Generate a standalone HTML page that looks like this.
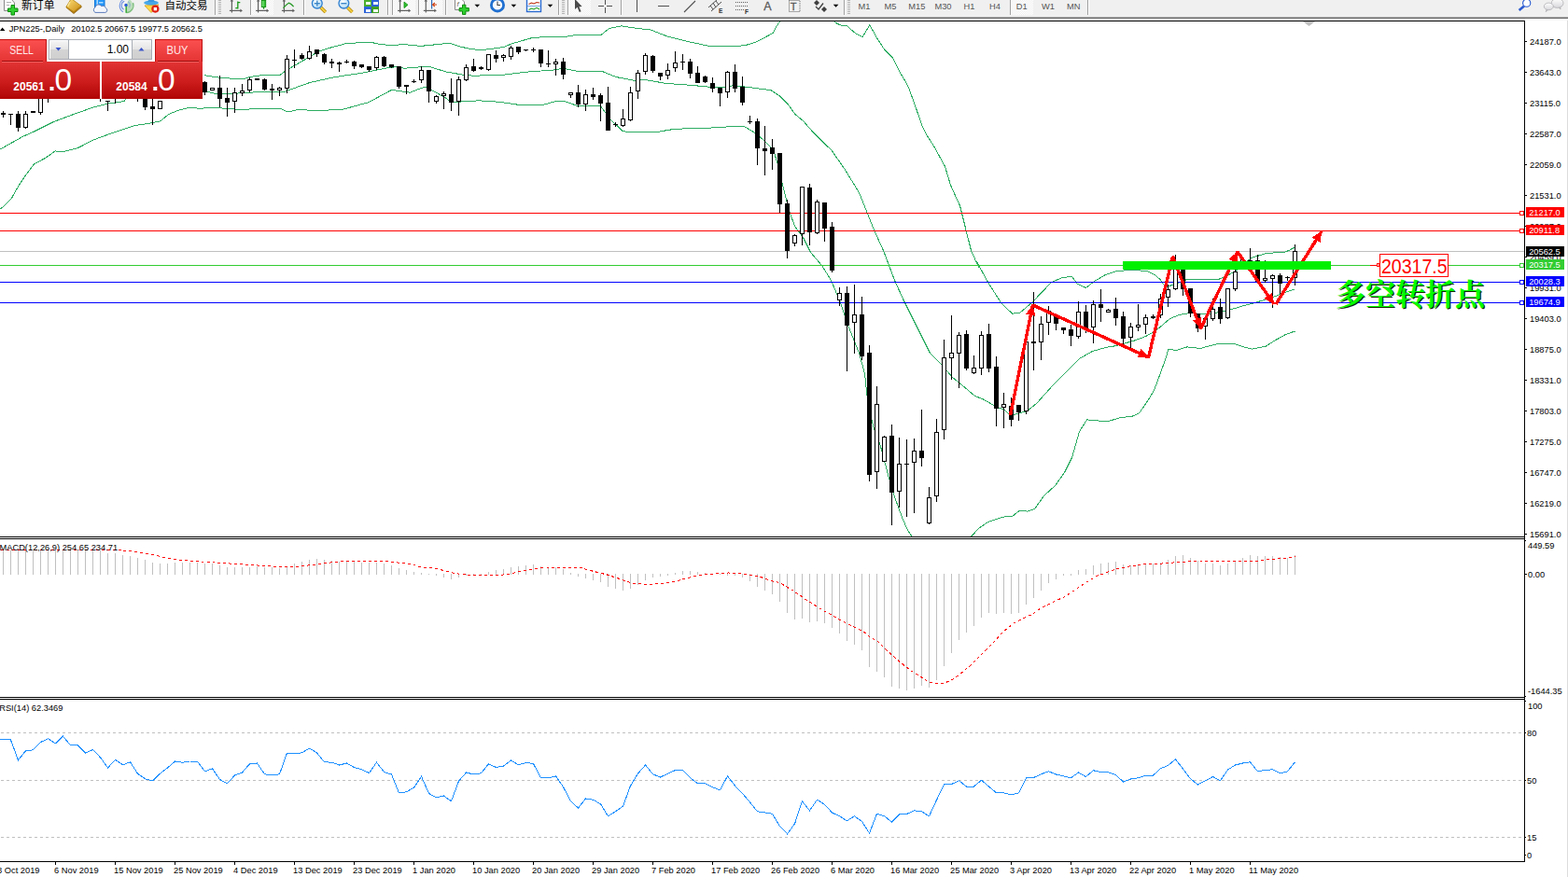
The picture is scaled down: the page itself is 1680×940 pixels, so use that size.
<!DOCTYPE html>
<html><head><meta charset="utf-8"><title>JPN225 Daily</title>
<style>
html,body{margin:0;padding:0;background:#fff;}
body{width:1680px;height:940px;overflow:hidden;position:relative;font-family:"Liberation Sans",sans-serif;}
svg{display:block}
text{white-space:pre}
</style></head><body>
<svg width="1680" height="940" viewBox="0 0 1680 940" style="position:absolute;left:0;top:0" font-family='"Liberation Sans", sans-serif'>
<defs><clipPath id="cm"><rect x="0" y="23" width="1633" height="552"/></clipPath><clipPath id="cd"><rect x="0" y="578" width="1633" height="169"/></clipPath><linearGradient id="gr1" x1="0" y1="0" x2="0" y2="1"><stop offset="0" stop-color="#fb5050"/><stop offset="1" stop-color="#e43333"/></linearGradient><linearGradient id="gr2" x1="0" y1="0" x2="0" y2="1"><stop offset="0" stop-color="#e23434"/><stop offset="0.55" stop-color="#cc1c1c"/><stop offset="1" stop-color="#b00404"/></linearGradient><linearGradient id="gb" x1="0" y1="0" x2="0" y2="1"><stop offset="0" stop-color="#f4f4f4"/><stop offset="0.5" stop-color="#e4e4e4"/><stop offset="0.5" stop-color="#d4d4d4"/><stop offset="1" stop-color="#cfcfcf"/></linearGradient></defs>
<g shape-rendering="crispEdges">
<rect x="0" y="22" width="1634" height="1" fill="#000"/>
<rect x="1633" y="22" width="1" height="902" fill="#000"/>
<rect x="0" y="923" width="1634" height="1" fill="#000"/>
<rect x="0" y="575" width="1634" height="1" fill="#000"/>
<rect x="0" y="577" width="1634" height="1" fill="#000"/>
<rect x="0" y="747" width="1634" height="1" fill="#000"/>
<rect x="0" y="749" width="1634" height="1" fill="#000"/>
<rect x="1679" y="20" width="1" height="920" fill="#dcdcdc"/>
<g clip-path="url(#cm)">
<rect x="0" y="269" width="1633" height="1" fill="#c0c0c0"/>
<g><polyline points="219.4,80.8 227.9,82.2 235.9,83.2 243.9,83.9 251.9,84.4 259.9,84.9 267.9,82.5 275.9,81.1 283.9,80.8 291.9,80.6 299.9,80.6 303.9,77.5 307.9,74.6 315.9,70.1 323.9,65.4 331.9,61.1 339.9,55.6 347.9,52.9 355.9,50.6 363.9,48.5 370.1,46.8 379.9,46.1 385.1,45.4 397.9,45.4 403.9,46.8 411.9,47.9 419.9,48.9 427.9,47.9 435.9,47.9 443.9,48.6 451.9,49.6 448.5,49.6 462.8,48.2 472.8,47.1 482.8,46.5 491.4,49.6 502.8,52.2 514.2,53.6 522.8,52.9 539.9,50.4 548.5,46.8 569.9,40.6 584.2,39.6 605.6,39.4 617.1,37.5 644.2,37.2 652.8,30.4 665.6,27.8 677.1,29.6 688.5,31.1 694.8,31.1 714.8,38.9 737.6,44.6 760.5,49.6 774.8,49.6 797.6,48.9 809.1,45.4 820.5,39.6 828.4,35.4 831.9,28.2 835.5,23.2" fill="none" stroke="#2cac62" stroke-width="1" /><polyline points="894.1,23.6 899.8,26.8 907.6,27.9 916.2,35.4 924.1,39.6 931.9,26.8 939.8,41.1 947.6,53.2 956.9,62.5 963.4,76.1 969.8,86.8 974.1,95.4 979.8,111.1 987.6,133.9 993.4,145.4 1000.2,156.1 1000.5,156.5 1012.5,178.5 1018.5,198.5 1028.5,220.5 1034.5,244.5 1040.5,268.5 1048.5,286.5 1046.5,280.5 1058.5,302.5 1072.5,324.5 1084.5,336.1 1092.5,335.5 1106.5,323.5 1126.5,302.5 1138.5,297.5 1148.5,296.5 1154.5,304.5 1163.5,308.5 1172.5,301.5 1184.5,294.5 1196.5,290.5 1213.4,289.4 1229.1,290.5 1237.6,294.8 1243.4,299.8 1248.5,307.5 1256.5,305.5 1271.0,299.8 1294.8,299.4 1304.8,299.8 1316.2,294.8 1326.2,289.1 1336.5,279.5 1341.5,276.2 1349.5,273.7 1358.0,271.2 1375.2,270.7 1380.3,268.7 1387.4,265.1" fill="none" stroke="#2cac62" stroke-width="1" /><polyline points="0.5,159.8 11.9,153.4 24.8,146.2 36.2,141.2 57.6,130.5 80.5,121.9 100.5,114.8 114.8,111.2 129.1,109.1 133.4,108.8 134.5,105.5 216.5,96.8 216.5,96.8 230.8,100.4 245.1,100.8 259.4,99.6 273.6,98.9 305.1,98.2 310.8,96.1 330.8,88.9 339.4,86.8 359.4,82.5 387.9,78.2 416.5,72.5 423.6,71.8 433.6,73.2 450.8,71.8 461.4,71.8 477.1,76.8 495.6,80.1 505.6,81.1 534.2,80.8 569.9,76.5 591.4,75.4 602.8,73.2 617.1,76.1 644.2,76.1 659.9,82.5 679.9,86.4 688.5,85.4 694.8,86.1 713.4,89.4 737.6,91.1 760.5,93.2 771.9,93.9 784.8,91.8 794.8,92.5 801.9,93.5 816.2,95.4 826.2,96.8 834.8,102.5 844.8,112.5 851.9,122.5 860.5,129.6 871.9,142.5 884.8,155.4 890.5,160.5 904.5,180.5 920.5,206.5 928.5,226.5 936.5,246.5 946.5,268.5 952.5,284.5 958.5,300.5 968.5,322.5 980.5,346.5 996.5,378.5 1008.5,390.5 1020.5,404.5 1030.5,412.5 1044.5,424.5 1052.5,427.5 1066.5,435.5 1076.5,439.5 1082.5,445.5 1100.5,440.5 1110.5,432.5 1128.5,412.5 1140.5,400.5 1156.5,384.5 1170.5,376.5 1184.5,372.5 1196.5,370.5 1216.2,364.8 1227.6,360.5 1237.6,354.8 1243.5,350.1 1253.5,341.5 1263.5,337.5 1273.0,335.8 1293.5,336.5 1301.5,335.5 1318.5,331.9 1331.5,327.9 1341.5,325.3 1352.0,322.3 1362.1,319.3 1372.2,315.2 1380.3,312.2 1387.4,309.9" fill="none" stroke="#2cac62" stroke-width="1" /><polyline points="0.5,224.1 11.9,213.4 19.1,200.5 27.6,187.6 36.2,176.2 49.1,169.1 59.1,161.9 66.2,162.9 83.4,158.6 100.5,149.8 121.9,141.9 143.4,134.8 157.6,132.6 171.9,129.8 180.5,122.6 190.5,118.4 200.5,115.8 216.5,116.1 230.8,115.1 245.1,116.8 263.6,117.5 270.8,116.5 300.8,116.5 307.9,120.1 319.4,117.5 337.9,118.5 366.5,117.5 395.1,109.6 419.4,96.5 427.9,97.5 439.4,99.2 450.8,94.6 455.6,93.5 462.8,96.8 477.1,104.6 484.2,109.9 495.6,108.9 512.8,107.8 534.2,109.2 554.2,112.1 569.9,112.9 581.4,112.5 594.2,108.9 605.6,108.9 619.9,113.9 643.5,113.9 654.2,128.2 667.1,140.4 674.2,141.8 688.5,141.4 701.9,141.8 719.1,138.9 737.6,137.5 773.4,136.8 779.1,135.8 797.6,135.8 809.1,142.5 817.6,149.6 824.8,156.8 828.5,160.5 833.5,176.5 840.5,206.5 846.5,228.5 851.5,242.5 860.5,254.5 868.5,270.5 880.5,284.5 890.5,300.5 900.5,324.5 908.5,348.5 920.5,378.5 926.5,400.5 929.5,428.5 934.5,452.5 937.5,462.5 943.5,478.5 952.5,512.5 958.5,532.5 966.5,554.5 972.5,568.5 977.5,575.5" fill="none" stroke="#2cac62" stroke-width="1" /><polyline points="1040.5,575.1 1048.5,566.5 1058.5,559.5 1074.5,554.1 1084.5,553.5 1092.5,547.1 1100.5,548.1 1108.5,545.5 1118.5,531.5 1130.5,520.5 1140.5,506.5 1148.5,490.5 1152.5,476.5 1156.5,462.5 1164.5,449.9 1186.5,451.9 1200.5,447.5 1212.5,446.5 1220.5,442.9 1230.5,428.5 1236.5,418.5 1249.1,384.1 1251.9,374.1 1260.5,375.5 1271.9,371.9 1286.2,373.4 1303.4,368.8 1323.4,368.8 1334.8,372.6 1341.9,374.1 1356.2,371.2 1366.2,364.8 1377.6,358.4 1384.8,355.9 1387.6,355.9" fill="none" stroke="#2cac62" stroke-width="1" /></g>
<rect x="0" y="228" width="1628" height="1" fill="#ff0000"/>
<rect x="0" y="247" width="1628" height="1" fill="#ff0000"/>
<rect x="0" y="284" width="1628" height="1" fill="#32cd32"/>
<rect x="0" y="302" width="1628" height="1" fill="#0000ff"/>
<rect x="0" y="324" width="1628" height="1" fill="#0000ff"/>
<g fill="#000"><rect x="3" y="119" width="1" height="7"/><rect x="1" y="121" width="5" height="2"/><rect x="11" y="122" width="1" height="12"/><rect x="9" y="122" width="5" height="1"/><rect x="19" y="119" width="1" height="22"/><rect x="17" y="122" width="5" height="15"/><rect x="27" y="119" width="1" height="19"/><rect x="25" y="122" width="5" height="15"/><rect x="26" y="123" width="3" height="13" fill="#fff"/><rect x="35" y="119" width="1" height="2"/><rect x="33" y="119" width="5" height="2"/><rect x="43" y="100" width="1" height="23"/><rect x="41" y="100" width="5" height="21"/><rect x="42" y="101" width="3" height="19" fill="#fff"/><rect x="51" y="100" width="1" height="10"/><rect x="49" y="100" width="5" height="5"/><rect x="107" y="100" width="1" height="9"/><rect x="105" y="100" width="5" height="5"/><rect x="115" y="108" width="1" height="11"/><rect x="113" y="108" width="5" height="1"/><rect x="123" y="100" width="1" height="11"/><rect x="121" y="100" width="5" height="5"/><rect x="147" y="100" width="1" height="9"/><rect x="145" y="100" width="5" height="5"/><rect x="155" y="100" width="1" height="18"/><rect x="153" y="100" width="5" height="15"/><rect x="163" y="100" width="1" height="34"/><rect x="161" y="114" width="5" height="3"/><rect x="171" y="108" width="1" height="9"/><rect x="169" y="108" width="5" height="9"/><rect x="170" y="109" width="3" height="7" fill="#fff"/><rect x="219" y="87" width="1" height="15"/><rect x="217" y="88" width="5" height="11"/><rect x="227" y="94" width="1" height="3"/><rect x="225" y="94" width="5" height="3"/><rect x="226" y="95" width="3" height="1" fill="#fff"/><rect x="235" y="81" width="1" height="34"/><rect x="233" y="94" width="5" height="12"/><rect x="243" y="94" width="1" height="31"/><rect x="241" y="105" width="5" height="5"/><rect x="251" y="94" width="1" height="27"/><rect x="249" y="99" width="5" height="10"/><rect x="250" y="100" width="3" height="8" fill="#fff"/><rect x="259" y="90" width="1" height="13"/><rect x="257" y="97" width="5" height="3"/><rect x="258" y="98" width="3" height="1" fill="#fff"/><rect x="267" y="83" width="1" height="16"/><rect x="265" y="85" width="5" height="12"/><rect x="266" y="86" width="3" height="10" fill="#fff"/><rect x="275" y="84" width="1" height="2"/><rect x="273" y="84" width="5" height="2"/><rect x="283" y="84" width="1" height="13"/><rect x="281" y="85" width="5" height="11"/><rect x="291" y="90" width="1" height="17"/><rect x="289" y="95" width="5" height="2"/><rect x="299" y="93" width="1" height="10"/><rect x="297" y="94" width="5" height="3"/><rect x="298" y="95" width="3" height="1" fill="#fff"/><rect x="307" y="59" width="1" height="41"/><rect x="305" y="63" width="5" height="32"/><rect x="306" y="64" width="3" height="30" fill="#fff"/><rect x="315" y="53" width="1" height="20"/><rect x="313" y="64" width="5" height="1"/><rect x="323" y="57" width="1" height="7"/><rect x="321" y="59" width="5" height="4"/><rect x="331" y="49" width="1" height="15"/><rect x="329" y="55" width="5" height="8"/><rect x="330" y="56" width="3" height="6" fill="#fff"/><rect x="339" y="53" width="1" height="8"/><rect x="337" y="53" width="5" height="5"/><rect x="347" y="57" width="1" height="12"/><rect x="345" y="58" width="5" height="9"/><rect x="355" y="63" width="1" height="10"/><rect x="353" y="66" width="5" height="2"/><rect x="363" y="66" width="1" height="11"/><rect x="361" y="67" width="5" height="2"/><rect x="371" y="64" width="1" height="4"/><rect x="369" y="66" width="5" height="1"/><rect x="379" y="65" width="1" height="9"/><rect x="377" y="66" width="5" height="5"/><rect x="387" y="69" width="1" height="4"/><rect x="385" y="69" width="5" height="3"/><rect x="395" y="71" width="1" height="6"/><rect x="393" y="71" width="5" height="4"/><rect x="403" y="60" width="1" height="15"/><rect x="401" y="61" width="5" height="12"/><rect x="402" y="62" width="3" height="10" fill="#fff"/><rect x="411" y="60" width="1" height="12"/><rect x="409" y="61" width="5" height="10"/><rect x="419" y="69" width="1" height="4"/><rect x="417" y="69" width="5" height="3"/><rect x="427" y="71" width="1" height="24"/><rect x="425" y="71" width="5" height="22"/><rect x="435" y="91" width="1" height="10"/><rect x="433" y="91" width="5" height="2"/><rect x="443" y="85" width="1" height="4"/><rect x="441" y="87" width="5" height="1"/><rect x="451" y="71" width="1" height="18"/><rect x="449" y="75" width="5" height="11"/><rect x="450" y="76" width="3" height="9" fill="#fff"/><rect x="459" y="75" width="1" height="35"/><rect x="457" y="75" width="5" height="23"/><rect x="467" y="102" width="1" height="9"/><rect x="465" y="103" width="5" height="6"/><rect x="466" y="104" width="3" height="4" fill="#fff"/><rect x="475" y="98" width="1" height="19"/><rect x="473" y="100" width="5" height="3"/><rect x="474" y="101" width="3" height="1" fill="#fff"/><rect x="483" y="84" width="1" height="35"/><rect x="481" y="101" width="5" height="9"/><rect x="491" y="82" width="1" height="42"/><rect x="489" y="85" width="5" height="24"/><rect x="490" y="86" width="3" height="22" fill="#fff"/><rect x="499" y="69" width="1" height="18"/><rect x="497" y="72" width="5" height="14"/><rect x="498" y="73" width="3" height="12" fill="#fff"/><rect x="507" y="63" width="1" height="14"/><rect x="505" y="71" width="5" height="5"/><rect x="515" y="71" width="1" height="4"/><rect x="513" y="72" width="5" height="2"/><rect x="523" y="58" width="1" height="18"/><rect x="521" y="58" width="5" height="17"/><rect x="522" y="59" width="3" height="15" fill="#fff"/><rect x="531" y="54" width="1" height="13"/><rect x="529" y="59" width="5" height="4"/><rect x="539" y="58" width="1" height="8"/><rect x="537" y="59" width="5" height="3"/><rect x="538" y="60" width="3" height="1" fill="#fff"/><rect x="547" y="49" width="1" height="15"/><rect x="545" y="51" width="5" height="10"/><rect x="546" y="52" width="3" height="8" fill="#fff"/><rect x="555" y="50" width="1" height="8"/><rect x="553" y="50" width="5" height="6"/><rect x="563" y="53" width="1" height="2"/><rect x="561" y="53" width="5" height="1"/><rect x="571" y="51" width="1" height="5"/><rect x="569" y="53" width="5" height="1"/><rect x="579" y="53" width="1" height="19"/><rect x="577" y="53" width="5" height="15"/><rect x="587" y="54" width="1" height="18"/><rect x="585" y="68" width="5" height="1"/><rect x="595" y="63" width="1" height="18"/><rect x="593" y="66" width="5" height="3"/><rect x="594" y="67" width="3" height="1" fill="#fff"/><rect x="603" y="62" width="1" height="23"/><rect x="601" y="66" width="5" height="14"/><rect x="611" y="99" width="1" height="6"/><rect x="609" y="99" width="5" height="3"/><rect x="610" y="100" width="3" height="1" fill="#fff"/><rect x="619" y="91" width="1" height="24"/><rect x="617" y="99" width="5" height="13"/><rect x="627" y="96" width="1" height="23"/><rect x="625" y="101" width="5" height="11"/><rect x="626" y="102" width="3" height="9" fill="#fff"/><rect x="635" y="94" width="1" height="13"/><rect x="633" y="101" width="5" height="3"/><rect x="643" y="100" width="1" height="30"/><rect x="641" y="102" width="5" height="9"/><rect x="651" y="93" width="1" height="47"/><rect x="649" y="110" width="5" height="30"/><rect x="659" y="131" width="1" height="5"/><rect x="657" y="133" width="5" height="1"/><rect x="667" y="117" width="1" height="19"/><rect x="665" y="127" width="5" height="8"/><rect x="666" y="128" width="3" height="6" fill="#fff"/><rect x="675" y="93" width="1" height="37"/><rect x="673" y="99" width="5" height="30"/><rect x="674" y="100" width="3" height="28" fill="#fff"/><rect x="683" y="75" width="1" height="31"/><rect x="681" y="78" width="5" height="20"/><rect x="682" y="79" width="3" height="18" fill="#fff"/><rect x="691" y="57" width="1" height="23"/><rect x="689" y="59" width="5" height="18"/><rect x="690" y="60" width="3" height="16" fill="#fff"/><rect x="699" y="59" width="1" height="19"/><rect x="697" y="60" width="5" height="16"/><rect x="707" y="78" width="1" height="8"/><rect x="705" y="78" width="5" height="4"/><rect x="715" y="68" width="1" height="17"/><rect x="713" y="75" width="5" height="6"/><rect x="714" y="76" width="3" height="4" fill="#fff"/><rect x="723" y="55" width="1" height="22"/><rect x="721" y="67" width="5" height="6"/><rect x="722" y="68" width="3" height="4" fill="#fff"/><rect x="731" y="58" width="1" height="17"/><rect x="729" y="66" width="5" height="1"/><rect x="739" y="63" width="1" height="21"/><rect x="737" y="66" width="5" height="13"/><rect x="747" y="71" width="1" height="18"/><rect x="745" y="78" width="5" height="11"/><rect x="755" y="81" width="1" height="8"/><rect x="753" y="82" width="5" height="6"/><rect x="763" y="83" width="1" height="16"/><rect x="761" y="89" width="5" height="6"/><rect x="771" y="94" width="1" height="20"/><rect x="769" y="94" width="5" height="6"/><rect x="779" y="76" width="1" height="29"/><rect x="777" y="77" width="5" height="22"/><rect x="778" y="78" width="3" height="20" fill="#fff"/><rect x="787" y="69" width="1" height="30"/><rect x="785" y="77" width="5" height="18"/><rect x="795" y="82" width="1" height="31"/><rect x="793" y="93" width="5" height="17"/><rect x="803" y="124" width="1" height="9"/><rect x="801" y="130" width="5" height="1"/><rect x="811" y="127" width="1" height="50"/><rect x="809" y="130" width="5" height="29"/><rect x="819" y="135" width="1" height="53"/><rect x="817" y="159" width="5" height="3"/><rect x="827" y="149" width="1" height="33"/><rect x="825" y="158" width="5" height="7"/><rect x="835" y="164" width="1" height="64"/><rect x="833" y="164" width="5" height="55"/><rect x="843" y="214" width="1" height="63"/><rect x="841" y="218" width="5" height="51"/><rect x="851" y="251" width="1" height="13"/><rect x="849" y="252" width="5" height="9"/><rect x="850" y="253" width="3" height="7" fill="#fff"/><rect x="859" y="200" width="1" height="63"/><rect x="857" y="200" width="5" height="51"/><rect x="858" y="201" width="3" height="49" fill="#fff"/><rect x="867" y="197" width="1" height="66"/><rect x="865" y="201" width="5" height="48"/><rect x="875" y="214" width="1" height="37"/><rect x="873" y="216" width="5" height="34"/><rect x="874" y="217" width="3" height="32" fill="#fff"/><rect x="883" y="217" width="1" height="42"/><rect x="881" y="217" width="5" height="28"/><rect x="891" y="238" width="1" height="54"/><rect x="889" y="243" width="5" height="47"/><rect x="899" y="308" width="1" height="20"/><rect x="897" y="314" width="5" height="8"/><rect x="898" y="315" width="3" height="6" fill="#fff"/><rect x="907" y="307" width="1" height="91"/><rect x="905" y="314" width="5" height="35"/><rect x="915" y="305" width="1" height="74"/><rect x="913" y="337" width="5" height="9"/><rect x="914" y="338" width="3" height="7" fill="#fff"/><rect x="923" y="318" width="1" height="68"/><rect x="921" y="337" width="5" height="45"/><rect x="931" y="370" width="1" height="146"/><rect x="929" y="378" width="5" height="131"/><rect x="939" y="414" width="1" height="110"/><rect x="937" y="433" width="5" height="73"/><rect x="938" y="434" width="3" height="71" fill="#fff"/><rect x="947" y="467" width="1" height="28"/><rect x="945" y="468" width="5" height="27"/><rect x="946" y="469" width="3" height="25" fill="#fff"/><rect x="955" y="455" width="1" height="108"/><rect x="953" y="467" width="5" height="61"/><rect x="963" y="469" width="1" height="75"/><rect x="961" y="497" width="5" height="30"/><rect x="962" y="498" width="3" height="28" fill="#fff"/><rect x="971" y="471" width="1" height="83"/><rect x="969" y="497" width="5" height="1"/><rect x="979" y="470" width="1" height="80"/><rect x="977" y="483" width="5" height="13"/><rect x="978" y="484" width="3" height="11" fill="#fff"/><rect x="987" y="439" width="1" height="61"/><rect x="985" y="483" width="5" height="8"/><rect x="995" y="522" width="1" height="40"/><rect x="993" y="533" width="5" height="28"/><rect x="994" y="534" width="3" height="26" fill="#fff"/><rect x="1003" y="449" width="1" height="89"/><rect x="1001" y="463" width="5" height="69"/><rect x="1002" y="464" width="3" height="67" fill="#fff"/><rect x="1011" y="364" width="1" height="107"/><rect x="1009" y="383" width="5" height="78"/><rect x="1010" y="384" width="3" height="76" fill="#fff"/><rect x="1019" y="338" width="1" height="69"/><rect x="1017" y="378" width="5" height="6"/><rect x="1018" y="379" width="3" height="4" fill="#fff"/><rect x="1027" y="356" width="1" height="60"/><rect x="1025" y="359" width="5" height="20"/><rect x="1026" y="360" width="3" height="18" fill="#fff"/><rect x="1035" y="354" width="1" height="43"/><rect x="1033" y="358" width="5" height="37"/><rect x="1043" y="381" width="1" height="20"/><rect x="1041" y="394" width="5" height="6"/><rect x="1042" y="395" width="3" height="4" fill="#fff"/><rect x="1051" y="355" width="1" height="47"/><rect x="1049" y="359" width="5" height="36"/><rect x="1050" y="360" width="3" height="34" fill="#fff"/><rect x="1059" y="347" width="1" height="52"/><rect x="1057" y="358" width="5" height="37"/><rect x="1067" y="382" width="1" height="75"/><rect x="1065" y="393" width="5" height="45"/><rect x="1075" y="421" width="1" height="38"/><rect x="1073" y="433" width="5" height="4"/><rect x="1074" y="434" width="3" height="2" fill="#fff"/><rect x="1083" y="426" width="1" height="31"/><rect x="1081" y="435" width="5" height="15"/><rect x="1091" y="434" width="1" height="17"/><rect x="1089" y="434" width="5" height="8"/><rect x="1099" y="366" width="1" height="78"/><rect x="1097" y="366" width="5" height="75"/><rect x="1098" y="367" width="3" height="73" fill="#fff"/><rect x="1107" y="313" width="1" height="84"/><rect x="1105" y="366" width="5" height="2"/><rect x="1115" y="339" width="1" height="47"/><rect x="1113" y="347" width="5" height="20"/><rect x="1114" y="348" width="3" height="18" fill="#fff"/><rect x="1123" y="328" width="1" height="31"/><rect x="1121" y="333" width="5" height="13"/><rect x="1122" y="334" width="3" height="11" fill="#fff"/><rect x="1131" y="337" width="1" height="17"/><rect x="1129" y="337" width="5" height="10"/><rect x="1139" y="351" width="1" height="7"/><rect x="1137" y="351" width="5" height="3"/><rect x="1147" y="348" width="1" height="23"/><rect x="1145" y="353" width="5" height="7"/><rect x="1155" y="323" width="1" height="40"/><rect x="1153" y="334" width="5" height="27"/><rect x="1154" y="335" width="3" height="25" fill="#fff"/><rect x="1163" y="327" width="1" height="30"/><rect x="1161" y="334" width="5" height="18"/><rect x="1171" y="322" width="1" height="46"/><rect x="1169" y="326" width="5" height="25"/><rect x="1170" y="327" width="3" height="23" fill="#fff"/><rect x="1179" y="310" width="1" height="35"/><rect x="1177" y="326" width="5" height="4"/><rect x="1187" y="331" width="1" height="4"/><rect x="1185" y="332" width="5" height="3"/><rect x="1186" y="333" width="3" height="1" fill="#fff"/><rect x="1195" y="319" width="1" height="30"/><rect x="1193" y="331" width="5" height="10"/><rect x="1203" y="334" width="1" height="35"/><rect x="1201" y="339" width="5" height="24"/><rect x="1211" y="346" width="1" height="28"/><rect x="1209" y="350" width="5" height="12"/><rect x="1210" y="351" width="3" height="10" fill="#fff"/><rect x="1219" y="326" width="1" height="29"/><rect x="1217" y="348" width="5" height="3"/><rect x="1218" y="349" width="3" height="1" fill="#fff"/><rect x="1227" y="337" width="1" height="21"/><rect x="1225" y="340" width="5" height="8"/><rect x="1226" y="341" width="3" height="6" fill="#fff"/><rect x="1235" y="337" width="1" height="5"/><rect x="1233" y="339" width="5" height="2"/><rect x="1243" y="315" width="1" height="26"/><rect x="1241" y="320" width="5" height="18"/><rect x="1242" y="321" width="3" height="16" fill="#fff"/><rect x="1251" y="305" width="1" height="24"/><rect x="1249" y="310" width="5" height="9"/><rect x="1250" y="311" width="3" height="7" fill="#fff"/><rect x="1259" y="273" width="1" height="38"/><rect x="1257" y="283" width="5" height="27"/><rect x="1258" y="284" width="3" height="25" fill="#fff"/><rect x="1267" y="281" width="1" height="36"/><rect x="1265" y="283" width="5" height="27"/><rect x="1275" y="309" width="1" height="31"/><rect x="1273" y="309" width="5" height="27"/><rect x="1283" y="336" width="1" height="20"/><rect x="1281" y="336" width="5" height="16"/><rect x="1291" y="341" width="1" height="23"/><rect x="1289" y="341" width="5" height="9"/><rect x="1290" y="342" width="3" height="7" fill="#fff"/><rect x="1299" y="320" width="1" height="24"/><rect x="1297" y="331" width="5" height="11"/><rect x="1298" y="332" width="3" height="9" fill="#fff"/><rect x="1307" y="320" width="1" height="27"/><rect x="1305" y="329" width="5" height="13"/><rect x="1315" y="309" width="1" height="33"/><rect x="1313" y="309" width="5" height="32"/><rect x="1314" y="310" width="3" height="30" fill="#fff"/><rect x="1323" y="288" width="1" height="24"/><rect x="1321" y="291" width="5" height="19"/><rect x="1322" y="292" width="3" height="17" fill="#fff"/><rect x="1331" y="276" width="1" height="12"/><rect x="1329" y="278" width="5" height="9"/><rect x="1330" y="279" width="3" height="7" fill="#fff"/><rect x="1339" y="266" width="1" height="22"/><rect x="1337" y="279" width="5" height="7"/><rect x="1347" y="273" width="1" height="29"/><rect x="1345" y="279" width="5" height="23"/><rect x="1355" y="279" width="1" height="24"/><rect x="1353" y="298" width="5" height="3"/><rect x="1354" y="299" width="3" height="1" fill="#fff"/><rect x="1363" y="294" width="1" height="36"/><rect x="1361" y="295" width="5" height="4"/><rect x="1362" y="296" width="3" height="2" fill="#fff"/><rect x="1371" y="293" width="1" height="22"/><rect x="1369" y="295" width="5" height="9"/><rect x="1379" y="296" width="1" height="5"/><rect x="1377" y="297" width="5" height="1"/><rect x="1387" y="262" width="1" height="44"/><rect x="1385" y="269" width="5" height="29"/><rect x="1386" y="270" width="3" height="27" fill="#fff"/></g>
</g>
</g>
<g clip-path="url(#cm)" shape-rendering="crispEdges">
<polyline points="1082.5,445.0 1106.5,327.0 1230.5,383.0 1256.5,275.0 1286.5,352.0 1326.0,270.0 1365.0,326.0" fill="none" stroke="#ff0000" stroke-width="3.4" stroke-linejoin="bevel"/>
<line x1="1367" y1="326" x2="1416" y2="248" stroke="#ff0000" stroke-width="3.4"/>
<g fill="#ff0000"><polygon points="1106.6,326.5 1109.4,338.8 1099.2,336.7"/><polygon points="1231.0,383.2 1218.3,383.2 1222.6,373.7"/><polygon points="1256.6,274.5 1259.0,286.9 1248.9,284.5"/><polygon points="1286.7,352.5 1277.7,343.6 1287.4,339.9"/><polygon points="1326.2,269.5 1325.9,282.2 1316.5,277.7"/><polygon points="1365.3,326.4 1354.4,319.9 1363.0,314.0"/><polygon points="1416.3,247.6 1414.6,260.1 1405.7,254.5"/></g>
<rect x="1203" y="280" width="223" height="9" fill="#00f000"/>
<rect x="1468" y="284" width="8" height="1" fill="#ff0000"/>
<rect x="1475.5" y="282.5" width="2" height="3" fill="#fff" stroke="#ff0000" stroke-width="1"/>
<rect x="1478.5" y="272.5" width="73" height="24" fill="#fff" stroke="#ff0000" stroke-width="1"/>
</g>
<text x="1480" y="293" fill="#ff0000" font-size="22" text-anchor="start" font-weight="normal" textLength="70.5" lengthAdjust="spacingAndGlyphs">20317.5</text>
<text x="1432.2" y="328.2" fill="#182800" font-size="32" font-weight="bold" font-family='"Liberation Serif", "Noto Serif CJK SC", serif' textLength="160" lengthAdjust="spacingAndGlyphs">多空转折点</text>
<text x="1431" y="327" fill="#00ff00" font-size="32" font-weight="bold" font-family='"Liberation Serif", "Noto Serif CJK SC", serif' textLength="160" lengthAdjust="spacingAndGlyphs">多空转折点</text>
<polygon points="1396,23 1409,23 1402.5,28" fill="#c0c0c0"/>
<g shape-rendering="crispEdges" fill="#000">
<rect x="1634" y="44" width="2" height="1"/>
<rect x="1634" y="77" width="2" height="1"/>
<rect x="1634" y="110" width="2" height="1"/>
<rect x="1634" y="143" width="2" height="1"/>
<rect x="1634" y="176" width="2" height="1"/>
<rect x="1634" y="209" width="2" height="1"/>
<rect x="1634" y="242" width="2" height="1"/>
<rect x="1634" y="275" width="2" height="1"/>
<rect x="1634" y="308" width="2" height="1"/>
<rect x="1634" y="341" width="2" height="1"/>
<rect x="1634" y="374" width="2" height="1"/>
<rect x="1634" y="407" width="2" height="1"/>
<rect x="1634" y="440" width="2" height="1"/>
<rect x="1634" y="473" width="2" height="1"/>
<rect x="1634" y="506" width="2" height="1"/>
<rect x="1634" y="539" width="2" height="1"/>
<rect x="1634" y="572" width="2" height="1"/>
<rect x="1634" y="579" width="1" height="1"/><rect x="1634" y="615" width="2" height="1"/><rect x="1634" y="746" width="1" height="1"/>
<rect x="1634" y="751" width="1" height="1"/>
<rect x="1634" y="785" width="1" height="1"/>
<rect x="1634" y="836" width="1" height="1"/>
<rect x="1634" y="897" width="1" height="1"/>
<rect x="1634" y="916" width="1" height="1"/>
</g>
<text x="1639" y="47.7" fill="#000" font-size="9.3" text-anchor="start" font-weight="normal" >24187.0</text>
<text x="1639" y="80.7" fill="#000" font-size="9.3" text-anchor="start" font-weight="normal" >23643.0</text>
<text x="1639" y="113.7" fill="#000" font-size="9.3" text-anchor="start" font-weight="normal" >23115.0</text>
<text x="1639" y="146.7" fill="#000" font-size="9.3" text-anchor="start" font-weight="normal" >22587.0</text>
<text x="1639" y="179.7" fill="#000" font-size="9.3" text-anchor="start" font-weight="normal" >22059.0</text>
<text x="1639" y="212.7" fill="#000" font-size="9.3" text-anchor="start" font-weight="normal" >21531.0</text>
<text x="1639" y="245.7" fill="#000" font-size="9.3" text-anchor="start" font-weight="normal" >20987.0</text>
<text x="1639" y="278.7" fill="#000" font-size="9.3" text-anchor="start" font-weight="normal" >20459.0</text>
<text x="1639" y="311.7" fill="#000" font-size="9.3" text-anchor="start" font-weight="normal" >19931.0</text>
<text x="1639" y="344.7" fill="#000" font-size="9.3" text-anchor="start" font-weight="normal" >19403.0</text>
<text x="1639" y="377.7" fill="#000" font-size="9.3" text-anchor="start" font-weight="normal" >18875.0</text>
<text x="1639" y="410.7" fill="#000" font-size="9.3" text-anchor="start" font-weight="normal" >18331.0</text>
<text x="1639" y="443.7" fill="#000" font-size="9.3" text-anchor="start" font-weight="normal" >17803.0</text>
<text x="1639" y="476.7" fill="#000" font-size="9.3" text-anchor="start" font-weight="normal" >17275.0</text>
<text x="1639" y="509.7" fill="#000" font-size="9.3" text-anchor="start" font-weight="normal" >16747.0</text>
<text x="1639" y="542.7" fill="#000" font-size="9.3" text-anchor="start" font-weight="normal" >16219.0</text>
<text x="1639" y="575.7" fill="#000" font-size="9.3" text-anchor="start" font-weight="normal" >15691.0</text>
<rect x="1635" y="222" width="41" height="11" fill="#ff0000" shape-rendering="crispEdges"/>
<text x="1638.2" y="230.7" fill="#fff" font-size="9.3" text-anchor="start" font-weight="normal" >21217.0</text>
<rect x="1628.5" y="226.5" width="4" height="4" fill="#fff" stroke="#ff0000" stroke-width="1" shape-rendering="crispEdges"/>
<rect x="1635" y="241" width="41" height="11" fill="#ff0000" shape-rendering="crispEdges"/>
<text x="1638.2" y="249.7" fill="#fff" font-size="9.3" text-anchor="start" font-weight="normal" >20911.8</text>
<rect x="1628.5" y="245.5" width="4" height="4" fill="#fff" stroke="#ff0000" stroke-width="1" shape-rendering="crispEdges"/>
<rect x="1635" y="264" width="41" height="11" fill="#000000" shape-rendering="crispEdges"/>
<text x="1638.2" y="272.7" fill="#fff" font-size="9.3" text-anchor="start" font-weight="normal" >20562.5</text>
<rect x="1635" y="278" width="41" height="11" fill="#32cd32" shape-rendering="crispEdges"/>
<text x="1638.2" y="286.7" fill="#fff" font-size="9.3" text-anchor="start" font-weight="normal" >20317.5</text>
<rect x="1628.5" y="282.5" width="4" height="4" fill="#fff" stroke="#32cd32" stroke-width="1" shape-rendering="crispEdges"/>
<rect x="1635" y="296" width="41" height="11" fill="#0000ff" shape-rendering="crispEdges"/>
<text x="1638.2" y="304.7" fill="#fff" font-size="9.3" text-anchor="start" font-weight="normal" >20028.3</text>
<rect x="1628.5" y="300.5" width="4" height="4" fill="#fff" stroke="#0000ff" stroke-width="1" shape-rendering="crispEdges"/>
<rect x="1635" y="318" width="41" height="11" fill="#0000ff" shape-rendering="crispEdges"/>
<text x="1638.2" y="326.7" fill="#fff" font-size="9.3" text-anchor="start" font-weight="normal" >19674.9</text>
<rect x="1628.5" y="322.5" width="4" height="4" fill="#fff" stroke="#0000ff" stroke-width="1" shape-rendering="crispEdges"/>
<text x="1637" y="588" fill="#000" font-size="9.3" text-anchor="start" font-weight="normal" >449.59</text>
<text x="1637" y="619" fill="#000" font-size="9.3" text-anchor="start" font-weight="normal" >0.00</text>
<text x="1637" y="744" fill="#000" font-size="9.3" text-anchor="start" font-weight="normal" >-1644.35</text>
<text x="1637" y="760" fill="#000" font-size="9.3" text-anchor="start" font-weight="normal" >100</text>
<text x="1636" y="789" fill="#000" font-size="9.3" text-anchor="start" font-weight="normal" >80</text>
<text x="1636" y="840" fill="#000" font-size="9.3" text-anchor="start" font-weight="normal" >50</text>
<text x="1636" y="901" fill="#000" font-size="9.3" text-anchor="start" font-weight="normal" >15</text>
<text x="1636" y="920" fill="#000" font-size="9.3" text-anchor="start" font-weight="normal" >0</text>
<g shape-rendering="crispEdges" clip-path="url(#cd)"><g fill="#c0c0c0"><rect x="3" y="590" width="1" height="26"/><rect x="11" y="590" width="1" height="26"/><rect x="19" y="590" width="1" height="26"/><rect x="27" y="590" width="1" height="26"/><rect x="35" y="590" width="1" height="26"/><rect x="43" y="590" width="1" height="26"/><rect x="51" y="590" width="1" height="26"/><rect x="59" y="590" width="1" height="26"/><rect x="67" y="590" width="1" height="26"/><rect x="75" y="590" width="1" height="26"/><rect x="83" y="590" width="1" height="26"/><rect x="91" y="590" width="1" height="26"/><rect x="99" y="590" width="1" height="26"/><rect x="107" y="590" width="1" height="26"/><rect x="115" y="593" width="1" height="23"/><rect x="123" y="593" width="1" height="23"/><rect x="131" y="595" width="1" height="21"/><rect x="139" y="596" width="1" height="20"/><rect x="147" y="598" width="1" height="18"/><rect x="155" y="600" width="1" height="16"/><rect x="163" y="603" width="1" height="13"/><rect x="171" y="604" width="1" height="12"/><rect x="179" y="604" width="1" height="12"/><rect x="187" y="603" width="1" height="13"/><rect x="195" y="603" width="1" height="13"/><rect x="203" y="603" width="1" height="13"/><rect x="211" y="603" width="1" height="13"/><rect x="219" y="604" width="1" height="12"/><rect x="227" y="604" width="1" height="12"/><rect x="235" y="606" width="1" height="10"/><rect x="243" y="608" width="1" height="8"/><rect x="251" y="608" width="1" height="8"/><rect x="259" y="608" width="1" height="8"/><rect x="267" y="608" width="1" height="8"/><rect x="275" y="607" width="1" height="9"/><rect x="283" y="608" width="1" height="8"/><rect x="291" y="608" width="1" height="8"/><rect x="299" y="609" width="1" height="7"/><rect x="307" y="608" width="1" height="8"/><rect x="315" y="604" width="1" height="12"/><rect x="323" y="602" width="1" height="14"/><rect x="331" y="600" width="1" height="16"/><rect x="339" y="599" width="1" height="17"/><rect x="347" y="600" width="1" height="16"/><rect x="355" y="601" width="1" height="15"/><rect x="363" y="602" width="1" height="14"/><rect x="371" y="602" width="1" height="14"/><rect x="379" y="602" width="1" height="14"/><rect x="387" y="603" width="1" height="13"/><rect x="395" y="603" width="1" height="13"/><rect x="403" y="603" width="1" height="13"/><rect x="411" y="604" width="1" height="12"/><rect x="419" y="606" width="1" height="10"/><rect x="427" y="609" width="1" height="7"/><rect x="435" y="611" width="1" height="5"/><rect x="443" y="613" width="1" height="3"/><rect x="451" y="614" width="1" height="2"/><rect x="459" y="615" width="1" height="1"/><rect x="467" y="615" width="1" height="2"/><rect x="475" y="615" width="1" height="4"/><rect x="483" y="615" width="1" height="6"/><rect x="491" y="615" width="1" height="4"/><rect x="499" y="615" width="1" height="2"/><rect x="507" y="615" width="1" height="1"/><rect x="515" y="615" width="1" height="1"/><rect x="523" y="613" width="1" height="3"/><rect x="531" y="611" width="1" height="5"/><rect x="539" y="610" width="1" height="6"/><rect x="547" y="608" width="1" height="8"/><rect x="555" y="607" width="1" height="9"/><rect x="563" y="606" width="1" height="10"/><rect x="571" y="605" width="1" height="11"/><rect x="579" y="607" width="1" height="9"/><rect x="587" y="608" width="1" height="8"/><rect x="595" y="608" width="1" height="8"/><rect x="603" y="610" width="1" height="6"/><rect x="611" y="614" width="1" height="2"/><rect x="619" y="615" width="1" height="3"/><rect x="627" y="615" width="1" height="5"/><rect x="635" y="615" width="1" height="7"/><rect x="643" y="615" width="1" height="9"/><rect x="651" y="615" width="1" height="14"/><rect x="659" y="615" width="1" height="16"/><rect x="667" y="615" width="1" height="18"/><rect x="675" y="615" width="1" height="16"/><rect x="683" y="615" width="1" height="12"/><rect x="691" y="615" width="1" height="7"/><rect x="699" y="615" width="1" height="4"/><rect x="707" y="615" width="1" height="3"/><rect x="715" y="615" width="1" height="2"/><rect x="723" y="614" width="1" height="2"/><rect x="731" y="612" width="1" height="4"/><rect x="739" y="612" width="1" height="4"/><rect x="747" y="613" width="1" height="3"/><rect x="755" y="614" width="1" height="2"/><rect x="763" y="615" width="1" height="1"/><rect x="771" y="615" width="1" height="1"/><rect x="779" y="615" width="1" height="2"/><rect x="787" y="615" width="1" height="2"/><rect x="795" y="615" width="1" height="4"/><rect x="803" y="615" width="1" height="8"/><rect x="811" y="615" width="1" height="14"/><rect x="819" y="615" width="1" height="18"/><rect x="827" y="615" width="1" height="22"/><rect x="835" y="615" width="1" height="30"/><rect x="843" y="615" width="1" height="42"/><rect x="851" y="615" width="1" height="49"/><rect x="859" y="615" width="1" height="48"/><rect x="867" y="615" width="1" height="52"/><rect x="875" y="615" width="1" height="51"/><rect x="883" y="615" width="1" height="53"/><rect x="891" y="615" width="1" height="58"/><rect x="899" y="615" width="1" height="64"/><rect x="907" y="615" width="1" height="72"/><rect x="915" y="615" width="1" height="76"/><rect x="923" y="615" width="1" height="82"/><rect x="931" y="615" width="1" height="100"/><rect x="939" y="615" width="1" height="105"/><rect x="947" y="615" width="1" height="111"/><rect x="955" y="615" width="1" height="121"/><rect x="963" y="615" width="1" height="123"/><rect x="971" y="615" width="1" height="125"/><rect x="979" y="615" width="1" height="123"/><rect x="987" y="615" width="1" height="120"/><rect x="995" y="615" width="1" height="122"/><rect x="1003" y="615" width="1" height="114"/><rect x="1011" y="615" width="1" height="99"/><rect x="1019" y="615" width="1" height="85"/><rect x="1027" y="615" width="1" height="71"/><rect x="1035" y="615" width="1" height="63"/><rect x="1043" y="615" width="1" height="56"/><rect x="1051" y="615" width="1" height="47"/><rect x="1059" y="615" width="1" height="42"/><rect x="1067" y="615" width="1" height="43"/><rect x="1075" y="615" width="1" height="42"/><rect x="1083" y="615" width="1" height="43"/><rect x="1091" y="615" width="1" height="42"/><rect x="1099" y="615" width="1" height="33"/><rect x="1107" y="615" width="1" height="26"/><rect x="1115" y="615" width="1" height="18"/><rect x="1123" y="615" width="1" height="10"/><rect x="1131" y="615" width="1" height="6"/><rect x="1139" y="615" width="1" height="2"/><rect x="1147" y="615" width="1" height="2"/><rect x="1155" y="611" width="1" height="5"/><rect x="1163" y="610" width="1" height="6"/><rect x="1171" y="606" width="1" height="10"/><rect x="1179" y="604" width="1" height="12"/><rect x="1187" y="603" width="1" height="13"/><rect x="1195" y="602" width="1" height="14"/><rect x="1203" y="605" width="1" height="11"/><rect x="1211" y="606" width="1" height="10"/><rect x="1219" y="606" width="1" height="10"/><rect x="1227" y="605" width="1" height="11"/><rect x="1235" y="604" width="1" height="12"/><rect x="1243" y="603" width="1" height="13"/><rect x="1251" y="600" width="1" height="16"/><rect x="1259" y="596" width="1" height="20"/><rect x="1267" y="595" width="1" height="21"/><rect x="1275" y="598" width="1" height="18"/><rect x="1283" y="601" width="1" height="15"/><rect x="1291" y="604" width="1" height="12"/><rect x="1299" y="604" width="1" height="12"/><rect x="1307" y="606" width="1" height="10"/><rect x="1315" y="604" width="1" height="12"/><rect x="1323" y="601" width="1" height="15"/><rect x="1331" y="598" width="1" height="18"/><rect x="1339" y="595" width="1" height="21"/><rect x="1347" y="596" width="1" height="20"/><rect x="1355" y="596" width="1" height="20"/><rect x="1363" y="596" width="1" height="20"/><rect x="1371" y="597" width="1" height="19"/><rect x="1379" y="598" width="1" height="18"/><rect x="1387" y="595" width="1" height="21"/></g><polyline points="0.5,589.7 125.5,589.7 135.5,590.3 150.5,592.3 160.5,594.0 175.5,597.3 195.5,600.5 225.5,602.7 250.5,604.3 275.5,606.0 295.5,607.3 308.0,608.0 325.5,606.5 350.5,603.5 358.0,602.3 380.5,601.0 410.5,601.7 415.5,601.7 425.5,603.0 440.5,604.7 450.5,607.7 465.5,609.0 475.5,611.5 488.0,614.7 505.5,616.7 530.5,616.7 545.5,615.5 555.5,612.7 570.5,610.5 585.5,608.0 620.5,608.0 630.5,611.0 650.5,616.0 665.5,621.0 678.0,625.3 693.0,626.5 710.5,625.5 725.5,622.7 740.5,618.5 750.5,616.5 765.5,615.0 780.5,614.0 793.0,614.3 800.5,616.0 813.0,617.7 825.5,622.3 835.5,624.7 850.5,633.5 865.5,644.0 880.5,653.5 890.5,659.0 900.5,664.7 915.5,672.3 925.5,677.3 933.0,683.5 940.5,687.3 950.5,697.3 963.0,708.5 975.5,718.5 985.5,724.7 995.5,731.5 1010.5,732.7 1020.5,728.5 1030.5,721.0 1040.5,712.7 1053.0,700.3 1065.5,687.3 1075.5,676.5 1085.5,668.5 1093.0,664.3 1105.5,658.5 1115.5,651.7 1128.0,645.5 1140.5,639.7 1153.0,631.5 1163.0,624.7 1175.5,617.3 1188.0,612.7 1200.5,608.5 1200.5,609.0 1208.0,607.3 1225.5,604.7 1238.0,604.7 1250.5,603.5 1260.5,602.7 1275.5,601.7 1285.5,601.0 1348.0,601.0 1355.5,599.7 1375.5,598.5 1388.0,596.5" fill="none" stroke="#ff0000" stroke-width="1" stroke-dasharray="3 3"/></g>
<text x="-0.5" y="590" fill="#000" font-size="9.3" text-anchor="start" font-weight="normal" >MACD(12,26,9) 254.65 234.71</text>
<g shape-rendering="crispEdges">
<line x1="1" y1="785.5" x2="1631" y2="785.5" stroke="#c0c0c0" stroke-width="1" stroke-dasharray="3 3"/>
<line x1="1" y1="836.5" x2="1631" y2="836.5" stroke="#c0c0c0" stroke-width="1" stroke-dasharray="3 3"/>
<line x1="1" y1="897.5" x2="1631" y2="897.5" stroke="#c0c0c0" stroke-width="1" stroke-dasharray="3 3"/>
<polyline points="-4.5,791.5 3.5,792.5 11.5,793.0 19.5,814.8 27.5,804.8 35.5,803.8 43.5,795.5 51.5,791.8 59.5,796.8 67.5,789.2 75.5,798.8 83.5,798.8 91.5,807.2 99.5,803.5 107.5,811.8 115.5,823.0 123.5,814.2 131.5,819.8 139.5,816.8 147.5,829.2 155.5,834.8 163.5,836.8 171.5,829.2 179.5,823.0 187.5,816.0 195.5,817.2 203.5,816.0 211.5,816.0 219.5,826.8 227.5,823.8 235.5,835.5 243.5,839.8 251.5,831.0 259.5,828.0 267.5,818.8 275.5,818.0 283.5,829.8 291.5,831.0 299.5,829.8 307.5,807.2 315.5,808.0 323.5,806.8 331.5,802.2 339.5,806.8 347.5,816.8 355.5,817.2 363.5,820.0 371.5,818.0 379.5,822.5 387.5,824.8 395.5,828.5 403.5,817.2 411.5,827.5 419.5,830.0 427.5,849.8 435.5,848.8 443.5,844.2 451.5,832.2 459.5,850.5 467.5,854.8 475.5,853.0 483.5,858.8 491.5,837.2 499.5,828.0 507.5,830.0 515.5,828.8 523.5,818.8 531.5,822.5 539.5,821.0 547.5,815.0 555.5,819.8 563.5,817.5 571.5,818.5 579.5,833.8 587.5,833.8 595.5,831.8 603.5,843.5 611.5,858.8 619.5,866.0 627.5,856.0 635.5,857.2 643.5,861.8 651.5,874.8 659.5,869.8 667.5,864.2 675.5,842.2 683.5,829.2 691.5,820.0 699.5,829.8 707.5,833.0 715.5,829.2 723.5,825.5 731.5,825.5 739.5,833.8 747.5,839.8 755.5,839.8 763.5,843.8 771.5,846.8 779.5,831.8 787.5,842.2 795.5,850.5 803.5,859.8 811.5,869.8 819.5,871.0 827.5,872.2 835.5,885.5 843.5,893.8 851.5,883.0 859.5,858.8 867.5,868.8 875.5,857.2 883.5,862.2 891.5,871.0 899.5,874.8 907.5,879.8 915.5,874.8 923.5,880.5 931.5,893.0 939.5,872.2 947.5,874.8 955.5,881.0 963.5,873.0 971.5,872.5 979.5,868.8 987.5,869.8 995.5,874.8 1003.5,857.5 1011.5,841.0 1019.5,840.5 1027.5,836.8 1035.5,843.0 1043.5,843.0 1051.5,836.2 1059.5,843.0 1067.5,849.8 1075.5,849.8 1083.5,851.8 1091.5,849.8 1099.5,833.8 1107.5,833.5 1115.5,829.8 1123.5,826.8 1131.5,830.0 1139.5,831.8 1147.5,833.8 1155.5,828.0 1163.5,832.5 1171.5,825.8 1179.5,827.5 1187.5,827.8 1195.5,830.5 1203.5,838.0 1211.5,835.0 1219.5,833.8 1227.5,831.0 1235.5,831.0 1243.5,823.8 1251.5,820.5 1259.5,813.8 1267.5,824.2 1275.5,834.8 1283.5,841.0 1291.5,836.8 1299.5,832.5 1307.5,836.8 1315.5,825.0 1323.5,820.0 1331.5,818.0 1339.5,816.8 1347.5,826.8 1355.5,825.5 1363.5,824.8 1371.5,828.8 1379.5,826.8 1387.5,816.8" fill="none" stroke="#1e90ff" stroke-width="1" />
</g>
<text x="-0.8" y="762" fill="#000" font-size="9.3" text-anchor="start" font-weight="normal" >RSI(14) 62.3469</text>
<g shape-rendering="crispEdges" fill="#000">
<rect x="-5" y="924" width="1" height="3"/>
<rect x="59" y="924" width="1" height="3"/>
<rect x="123" y="924" width="1" height="3"/>
<rect x="187" y="924" width="1" height="3"/>
<rect x="251" y="924" width="1" height="3"/>
<rect x="315" y="924" width="1" height="3"/>
<rect x="379" y="924" width="1" height="3"/>
<rect x="443" y="924" width="1" height="3"/>
<rect x="507" y="924" width="1" height="3"/>
<rect x="571" y="924" width="1" height="3"/>
<rect x="635" y="924" width="1" height="3"/>
<rect x="699" y="924" width="1" height="3"/>
<rect x="763" y="924" width="1" height="3"/>
<rect x="827" y="924" width="1" height="3"/>
<rect x="891" y="924" width="1" height="3"/>
<rect x="955" y="924" width="1" height="3"/>
<rect x="1019" y="924" width="1" height="3"/>
<rect x="1083" y="924" width="1" height="3"/>
<rect x="1147" y="924" width="1" height="3"/>
<rect x="1211" y="924" width="1" height="3"/>
<rect x="1275" y="924" width="1" height="3"/>
<rect x="1339" y="924" width="1" height="3"/>
</g>
<text x="-3" y="936" fill="#000" font-size="9.3" text-anchor="start" font-weight="normal" >8 Oct 2019</text>
<text x="58" y="936" fill="#000" font-size="9.3" text-anchor="start" font-weight="normal" >6 Nov 2019</text>
<text x="122" y="936" fill="#000" font-size="9.3" text-anchor="start" font-weight="normal" >15 Nov 2019</text>
<text x="186" y="936" fill="#000" font-size="9.3" text-anchor="start" font-weight="normal" >25 Nov 2019</text>
<text x="250" y="936" fill="#000" font-size="9.3" text-anchor="start" font-weight="normal" >4 Dec 2019</text>
<text x="314" y="936" fill="#000" font-size="9.3" text-anchor="start" font-weight="normal" >13 Dec 2019</text>
<text x="378" y="936" fill="#000" font-size="9.3" text-anchor="start" font-weight="normal" >23 Dec 2019</text>
<text x="442" y="936" fill="#000" font-size="9.3" text-anchor="start" font-weight="normal" >1 Jan 2020</text>
<text x="506" y="936" fill="#000" font-size="9.3" text-anchor="start" font-weight="normal" >10 Jan 2020</text>
<text x="570" y="936" fill="#000" font-size="9.3" text-anchor="start" font-weight="normal" >20 Jan 2020</text>
<text x="634" y="936" fill="#000" font-size="9.3" text-anchor="start" font-weight="normal" >29 Jan 2020</text>
<text x="698" y="936" fill="#000" font-size="9.3" text-anchor="start" font-weight="normal" >7 Feb 2020</text>
<text x="762" y="936" fill="#000" font-size="9.3" text-anchor="start" font-weight="normal" >17 Feb 2020</text>
<text x="826" y="936" fill="#000" font-size="9.3" text-anchor="start" font-weight="normal" >26 Feb 2020</text>
<text x="890" y="936" fill="#000" font-size="9.3" text-anchor="start" font-weight="normal" >6 Mar 2020</text>
<text x="954" y="936" fill="#000" font-size="9.3" text-anchor="start" font-weight="normal" >16 Mar 2020</text>
<text x="1018" y="936" fill="#000" font-size="9.3" text-anchor="start" font-weight="normal" >25 Mar 2020</text>
<text x="1082" y="936" fill="#000" font-size="9.3" text-anchor="start" font-weight="normal" >3 Apr 2020</text>
<text x="1146" y="936" fill="#000" font-size="9.3" text-anchor="start" font-weight="normal" >13 Apr 2020</text>
<text x="1210" y="936" fill="#000" font-size="9.3" text-anchor="start" font-weight="normal" >22 Apr 2020</text>
<text x="1274" y="936" fill="#000" font-size="9.3" text-anchor="start" font-weight="normal" >1 May 2020</text>
<text x="1338" y="936" fill="#000" font-size="9.3" text-anchor="start" font-weight="normal" >11 May 2020</text>
<polygon points="0,33 2.5,29.5 5.5,33" fill="#000"/>
<text x="9.7" y="34" fill="#000" font-size="9.3" text-anchor="start" font-weight="normal" >JPN225-,Daily</text>
<text x="76.2" y="34" fill="#000" font-size="9.3" text-anchor="start" font-weight="normal" textLength="140.6" lengthAdjust="spacing">20102.5 20667.5 19977.5 20562.5</text>
<g shape-rendering="crispEdges">
<rect x="0" y="42" width="217" height="64" fill="#fff"/>
<rect x="0" y="42" width="50" height="25" fill="url(#gr1)"/>
<rect x="166" y="42" width="51" height="25" fill="url(#gr1)"/>
<rect x="0" y="42" width="50" height="1" fill="#c01010"/><rect x="49" y="42" width="1" height="24" fill="#c01010"/>
<rect x="166" y="42" width="51" height="1" fill="#c01010"/><rect x="166" y="42" width="1" height="24" fill="#c01010"/><rect x="216" y="42" width="1" height="64" fill="#c01010"/>
<rect x="0" y="66" width="107" height="40" fill="url(#gr2)"/>
<rect x="109" y="66" width="108" height="40" fill="url(#gr2)"/>
<rect x="2" y="65" width="44" height="1" fill="#a00808"/><rect x="2" y="66" width="44" height="1" fill="#f06060"/>
<rect x="169" y="65" width="44" height="1" fill="#a00808"/><rect x="169" y="66" width="44" height="1" fill="#f06060"/>
<rect x="52.5" y="42.5" width="110" height="21" fill="#fff" stroke="#a8aeb6" stroke-width="1"/>
<rect x="54" y="44" width="19" height="19" fill="url(#gb)"/>
<rect x="73" y="43" width="1" height="20" fill="#a8aeb6"/>
<rect x="142" y="44" width="20" height="19" fill="url(#gb)"/>
<rect x="141" y="43" width="1" height="20" fill="#a8aeb6"/>
</g>
<polygon points="59.5,51 65.5,51 62.5,54.5" fill="#3a55c8"/>
<polygon points="148.5,54.5 154.5,54.5 151.5,51" fill="#3a55c8"/>
<text x="138" y="57" fill="#000" font-size="12" text-anchor="end" font-weight="normal" >1.00</text>
<text x="23" y="58" fill="#ffeaea" font-size="12" text-anchor="middle" font-weight="normal" textLength="25.5" lengthAdjust="spacingAndGlyphs">SELL</text>
<text x="190" y="58" fill="#ffeaea" font-size="12" text-anchor="middle" font-weight="normal" textLength="23" lengthAdjust="spacingAndGlyphs">BUY</text>
<text x="14.3" y="97" fill="#fff" font-size="12" text-anchor="start" font-weight="bold" >20561</text>
<text x="124.3" y="97" fill="#fff" font-size="12" text-anchor="start" font-weight="bold" >20584</text>
<rect x="53.5" y="93" width="4" height="4" fill="#fff"/><rect x="164.3" y="93" width="4" height="4" fill="#fff"/>
<text x="58.5" y="97.3" fill="#fff" font-size="33.5" text-anchor="start" font-weight="normal" >0</text>
<text x="169" y="97.3" fill="#fff" font-size="33.5" text-anchor="start" font-weight="normal" >0</text>
</svg>
<svg width="1680" height="22" viewBox="0 0 1680 22" style="position:absolute;left:0;top:0" font-family='"Liberation Sans", sans-serif'>
<defs><pattern id="chk" width="2" height="2" patternUnits="userSpaceOnUse"><rect width="2" height="2" fill="#f0f0f0"/><rect width="1" height="1" fill="#fff"/><rect x="1" y="1" width="1" height="1" fill="#fff"/></pattern><linearGradient id="gold" x1="0" y1="0" x2="1" y2="1"><stop offset="0" stop-color="#ffe27a"/><stop offset="1" stop-color="#c98a10"/></linearGradient><linearGradient id="grn" x1="0" y1="0" x2="1" y2="0"><stop offset="0" stop-color="#8cf08c"/><stop offset="1" stop-color="#18b018"/></linearGradient><radialGradient id="lens" cx="0.4" cy="0.35" r="0.7"><stop offset="0" stop-color="#ffffff"/><stop offset="1" stop-color="#a8d8f6"/></radialGradient></defs>
<g shape-rendering="crispEdges">
<rect x="0" y="0" width="1680" height="18" fill="#f0f0f0"/>
<rect x="0" y="18" width="1680" height="1" fill="#a6a6a6"/>
<rect x="0" y="19" width="1680" height="1" fill="#6c6c6c"/>
<rect x="0" y="20" width="1680" height="2" fill="#fbfbfb"/>
<rect x="270" y="0" width="23" height="16" fill="url(#chk)"/>
<rect x="422" y="0" width="23" height="16" fill="url(#chk)"/>
<rect x="449" y="0" width="25" height="16" fill="url(#chk)"/>
<rect x="609" y="0" width="24" height="16" fill="url(#chk)"/>
<rect x="1084" y="0" width="23" height="16" fill="url(#chk)"/>
<rect x="230" y="0" width="1" height="16" fill="#a0a0a0"/><rect x="231" y="0" width="1" height="16" fill="#ffffff"/>
<rect x="268" y="0" width="1" height="16" fill="#a0a0a0"/><rect x="269" y="0" width="1" height="16" fill="#ffffff"/>
<rect x="325" y="0" width="1" height="16" fill="#a0a0a0"/><rect x="326" y="0" width="1" height="16" fill="#ffffff"/>
<rect x="415" y="0" width="1" height="16" fill="#a0a0a0"/><rect x="416" y="0" width="1" height="16" fill="#ffffff"/>
<rect x="420" y="0" width="1" height="16" fill="#a0a0a0"/><rect x="421" y="0" width="1" height="16" fill="#ffffff"/>
<rect x="448" y="0" width="1" height="16" fill="#a0a0a0"/><rect x="449" y="0" width="1" height="16" fill="#ffffff"/>
<rect x="477" y="0" width="1" height="16" fill="#a0a0a0"/><rect x="478" y="0" width="1" height="16" fill="#ffffff"/>
<rect x="598" y="0" width="1" height="16" fill="#a0a0a0"/><rect x="599" y="0" width="1" height="16" fill="#ffffff"/>
<rect x="608" y="0" width="1" height="16" fill="#a0a0a0"/><rect x="609" y="0" width="1" height="16" fill="#ffffff"/>
<rect x="665" y="0" width="1" height="16" fill="#a0a0a0"/><rect x="666" y="0" width="1" height="16" fill="#ffffff"/>
<rect x="904" y="0" width="1" height="16" fill="#a0a0a0"/><rect x="905" y="0" width="1" height="16" fill="#ffffff"/>
<rect x="1082" y="0" width="1" height="16" fill="#a0a0a0"/><rect x="1083" y="0" width="1" height="16" fill="#ffffff"/>
<rect x="1165" y="0" width="1" height="16" fill="#a0a0a0"/><rect x="1166" y="0" width="1" height="16" fill="#ffffff"/>
<rect x="234" y="0" width="3" height="1" fill="#b4b4b4"/>
<rect x="234" y="2" width="3" height="1" fill="#b4b4b4"/>
<rect x="234" y="4" width="3" height="1" fill="#b4b4b4"/>
<rect x="234" y="6" width="3" height="1" fill="#b4b4b4"/>
<rect x="234" y="8" width="3" height="1" fill="#b4b4b4"/>
<rect x="234" y="10" width="3" height="1" fill="#b4b4b4"/>
<rect x="234" y="12" width="3" height="1" fill="#b4b4b4"/>
<rect x="234" y="14" width="3" height="1" fill="#b4b4b4"/>
<rect x="602" y="0" width="3" height="1" fill="#b4b4b4"/>
<rect x="602" y="2" width="3" height="1" fill="#b4b4b4"/>
<rect x="602" y="4" width="3" height="1" fill="#b4b4b4"/>
<rect x="602" y="6" width="3" height="1" fill="#b4b4b4"/>
<rect x="602" y="8" width="3" height="1" fill="#b4b4b4"/>
<rect x="602" y="10" width="3" height="1" fill="#b4b4b4"/>
<rect x="602" y="12" width="3" height="1" fill="#b4b4b4"/>
<rect x="602" y="14" width="3" height="1" fill="#b4b4b4"/>
<rect x="908" y="0" width="3" height="1" fill="#b4b4b4"/>
<rect x="908" y="2" width="3" height="1" fill="#b4b4b4"/>
<rect x="908" y="4" width="3" height="1" fill="#b4b4b4"/>
<rect x="908" y="6" width="3" height="1" fill="#b4b4b4"/>
<rect x="908" y="8" width="3" height="1" fill="#b4b4b4"/>
<rect x="908" y="10" width="3" height="1" fill="#b4b4b4"/>
<rect x="908" y="12" width="3" height="1" fill="#b4b4b4"/>
<rect x="908" y="14" width="3" height="1" fill="#b4b4b4"/>
</g>
<g>
<path d="M4.5,-1 V11.5 H15.5 V3 L12.5,-0.5" fill="#fff" stroke="#8a8a8a" stroke-width="1"/>
<rect x="7" y="2" width="5" height="1" fill="#b0b0b0"/><rect x="7" y="5" width="3" height="1" fill="#b0b0b0"/>
<path d="M12,5.5 h3.500 v3.500 h3.500 v3.500 h-3.500 v3.500 h-3.500 v-3.500 h-3.500 v-3.500 h3.500 z" fill="#2fd02f" stroke="#0b8a0b" stroke-width="1"/>
</g>
<text x="23" y="9.700" fill="#000" font-size="12" font-family='"Liberation Sans", "Noto Sans CJK SC", sans-serif' textLength="35.500" lengthAdjust="spacingAndGlyphs">新订单</text>
<text x="176.500" y="9.700" fill="#000" font-size="11.500" font-family='"Liberation Sans", "Noto Sans CJK SC", sans-serif' textLength="46" lengthAdjust="spacingAndGlyphs">自动交易</text>
<path d="M71,8 L79,14.6 L87.3,7.6 L86.7,5.8 L79,12 L71.4,6.4 Z" fill="#b07a10" stroke="#8a5a04" stroke-width="0.7"/>
<path d="M76.3,-1.5 L86.8,6.2 L79,12.6 L71,7.4 Z" fill="url(#gold)" stroke="#b8840c" stroke-width="0.8"/>
<path d="M75,2 L72.5,7" stroke="#fff4b0" stroke-width="1.2" opacity="0.8"/>
<rect x="101.500" y="-1" width="10.500" height="9" fill="#2196f8" stroke="#1878d8"/>
<rect x="103.600" y="0" width="1.100" height="7" fill="#e8f6ff"/><rect x="106" y="2.200" width="4.500" height="1.200" fill="#cfeaff"/>
<path d="M102,13.4 a3.200,3.200 0 0 1 0,-5.600 a3.600,3.600 0 0 1 6.600,-1.200 a3.200,3.200 0 0 1 4.600,2 a2.500,2.500 0 0 1 -0.400,4.800 z" fill="#f4f7fc" stroke="#5c7cba" stroke-width="1"/>
<path d="M135,5.7 L138.5,-1 A8,8 0 0 1 135.4,13.6 Z" fill="#6cc06c" opacity="0.4"/>
<path d="M135.5,13.6 A8,8 0 0 0 142.5,3" fill="none" stroke="#4aa84a" stroke-width="1.3" opacity="0.7"/>
<g fill="none" stroke="#6f93e0" stroke-width="1.1"><path d="M132.8,-1 A7.800,7.800 0 0 0 132,12.8"/><path d="M133.2,1.3 A5,5 0 0 0 132.6,10.2"/><path d="M137,1.6 A4.600,4.600 0 0 1 138.5,8" opacity="0.6"/></g>
<rect x="134.500" y="5.500" width="1.300" height="8.300" fill="#1fa01f"/>
<circle cx="135" cy="5.400" r="1.700" fill="#2a5ad8"/>
<path d="M155,6 L170,5 L162,13.5 Z" fill="#ffd94a" stroke="#d09a10" stroke-width="0.8"/>
<ellipse cx="162" cy="3" rx="7.800" ry="2.600" fill="#48a8e8"/><path d="M158,2 Q162,-6 166,2 Z" fill="#3a98e0"/>
<circle cx="166.400" cy="9.600" r="4.100" fill="#e02010"/><rect x="164.700" y="7.900" width="3.400" height="3.400" fill="#fff"/>
<g stroke="#606060" stroke-width="1.2" fill="#606060"><line x1="248.400" y1="0" x2="248.400" y2="13.500"/><line x1="245.900" y1="11.400" x2="258.400" y2="11.400"/><polygon points="248.400,-1 246.600,1.600 250.200,1.600" stroke="none"/><polygon points="259.900,11.400 257.400,9.600 257.400,13.200" stroke="none"/></g>
<g stroke="#1a9a1a" stroke-width="1.3" fill="none"><path d="M254.8,1.5 V9.500 M254.800,2.600 H257.300 M252.300,8.600 H254.800"/></g>
<g stroke="#606060" stroke-width="1.2" fill="#606060"><line x1="276.600" y1="0" x2="276.600" y2="13.500"/><line x1="274.100" y1="11.400" x2="286.600" y2="11.400"/><polygon points="276.600,-1 274.800,1.600 278.400,1.600" stroke="none"/><polygon points="288.100,11.400 285.600,9.600 285.600,13.200" stroke="none"/></g>
<rect x="280.300" y="0.500" width="4.400" height="7" fill="url(#grn)" stroke="#109010" stroke-width="0.9"/><rect x="282" y="7.500" width="1.200" height="2.200" fill="#109010"/>
<g stroke="#606060" stroke-width="1.2" fill="#606060"><line x1="304.400" y1="0" x2="304.400" y2="13.500"/><line x1="301.900" y1="11.400" x2="314.400" y2="11.400"/><polygon points="304.400,-1 302.600,1.600 306.200,1.600" stroke="none"/><polygon points="315.900,11.400 313.400,9.600 313.400,13.200" stroke="none"/></g>
<path d="M303.500,8.700 Q307,4.500 309.300,3.200 Q311.500,3.600 314.600,7.200" fill="none" stroke="#2a9a2a" stroke-width="1.3"/>
<line x1="343.800" y1="8" x2="348.800" y2="13" stroke="#b88a10" stroke-width="3.6" stroke-linecap="butt"/><line x1="343.800" y1="8" x2="348.800" y2="13" stroke="#f4d040" stroke-width="1.8"/><circle cx="339.800" cy="3.600" r="5.400" fill="url(#lens)" stroke="#2f7fd0" stroke-width="1.3"/><rect x="336.800" y="3" width="6" height="1.400" fill="#3a86c8"/><rect x="339.100" y="0.600" width="1.400" height="6" fill="#3a86c8"/>
<line x1="372.400" y1="8" x2="377.400" y2="13" stroke="#b88a10" stroke-width="3.6" stroke-linecap="butt"/><line x1="372.400" y1="8" x2="377.400" y2="13" stroke="#f4d040" stroke-width="1.8"/><circle cx="368.400" cy="3.600" r="5.400" fill="url(#lens)" stroke="#2f7fd0" stroke-width="1.3"/><rect x="365.400" y="3" width="6" height="1.400" fill="#3a86c8"/>
<g shape-rendering="crispEdges"><rect x="390" y="-1" width="8" height="7.500" fill="#4cae2c"/><rect x="398" y="-1" width="8" height="7.500" fill="#2b62d8"/><rect x="390" y="6.500" width="8" height="7" fill="#2b62d8"/><rect x="398" y="6.500" width="8" height="7" fill="#3e9e26"/><rect x="391.500" y="1.500" width="5" height="3.500" fill="#f4fff0"/><rect x="399.500" y="1.500" width="5" height="3.500" fill="#eef4ff"/><rect x="391.500" y="9.500" width="5" height="3" fill="#eef4ff"/><rect x="399.500" y="9.500" width="5" height="3" fill="#f4fff0"/></g>
<g stroke="#606060" stroke-width="1.2" fill="#606060"><line x1="428.600" y1="0" x2="428.600" y2="13.500"/><line x1="426.100" y1="11.400" x2="438.600" y2="11.400"/><polygon points="428.600,-1 426.800,1.600 430.400,1.600" stroke="none"/><polygon points="440.100,11.400 437.600,9.600 437.600,13.200" stroke="none"/></g>
<polygon points="433,2 433,8.600 437,5.300" fill="#30c030" stroke="#109010" stroke-width="0.8"/>
<g stroke="#606060" stroke-width="1.2" fill="#606060"><line x1="456.300" y1="0" x2="456.300" y2="13.500"/><line x1="453.800" y1="11.400" x2="466.300" y2="11.400"/><polygon points="456.300,-1 454.500,1.600 458.100,1.600" stroke="none"/><polygon points="467.800,11.400 465.300,9.600 465.300,13.200" stroke="none"/></g>
<rect x="462" y="0" width="1.200" height="9.500" fill="#2a6ab8"/><path d="M468,5 H463.600 M465.800,3 L463.600,5 L465.800,7" stroke="#d04010" stroke-width="1.1" fill="none"/>
<path d="M487.5,-1 V10.500 H497.500 V2 L495,-0.5" fill="#fff" stroke="#8a8a8a" stroke-width="1"/><text x="489.500" y="7" font-size="8" fill="#707060" font-style="italic">f</text>
<path d="M495.5,5.2 h3.400 v3.400 h3.400 v3.400 h-3.400 v3.400 h-3.400 v-3.400 h-3.400 v-3.400 h3.400 z" fill="#2fd02f" stroke="#0b8a0b" stroke-width="1"/>
<polygon points="508.500,4.800 514.100,4.800 511.300,7.800" fill="#000"/>
<polygon points="547.600,4.800 553.200,4.800 550.400,7.800" fill="#000"/>
<polygon points="586.700,4.800 592.300,4.800 589.500,7.800" fill="#000"/>
<polygon points="892.800,4.800 898.400,4.800 895.600,7.800" fill="#000"/>
<circle cx="533" cy="5.400" r="6.600" fill="#f8fbff" stroke="#1f6fd0" stroke-width="2.8"/><path d="M533,1.5 V5.500 H536" stroke="#404040" stroke-width="1.1" fill="none"/>
<rect x="564.500" y="-1" width="15" height="13.500" fill="#fff" stroke="#2a6ad0" stroke-width="1.4"/><rect x="565" y="6" width="14" height="1" fill="#7aa6e0"/>
<path d="M566.5,4.5 L569.5,3 L572,4 L575,2.5 L578,3" stroke="#c03010" stroke-width="1.1" fill="none"/><path d="M566.5,10.5 L569.5,9 L572,10 L575,8.3 L578,10" stroke="#20a020" stroke-width="1.1" fill="none"/>
<path d="M616,-1 L616,10 L618.6,7.8 L620.8,13 L622.6,12.2 L620.4,7.2 L623.6,7 Z" fill="#4a4a4a"/>
<g shape-rendering="crispEdges" fill="#505050"><rect x="648" y="0" width="1" height="5"/><rect x="648" y="8" width="1" height="6"/><rect x="641" y="6" width="6" height="1"/><rect x="650" y="6" width="6" height="1"/><rect x="682" y="0" width="1" height="13"/><rect x="705" y="6" width="12" height="1"/></g>
<line x1="733" y1="13" x2="745" y2="1" stroke="#505050" stroke-width="1.1"/>
<g stroke="#505050" stroke-width="1" fill="none"><path d="M759,8 L769,-1 M762,12 L773,2 M761,6 L764,10 M764,3 L767,8 M767,1 L770,5"/></g>
<text x="770" y="14" font-size="6.500" font-weight="bold" fill="#303030">E</text>
<g stroke="#606060" stroke-width="1" stroke-dasharray="1 1"><line x1="788" y1="2.500" x2="801" y2="2.500"/><line x1="788" y1="6.500" x2="801" y2="6.500"/><line x1="788" y1="10.500" x2="798" y2="10.500"/></g>
<text x="798" y="14.500" font-size="6.500" font-weight="bold" fill="#303030">F</text>
<text x="818.300" y="11" font-size="12.500" fill="#585858" stroke="#585858" stroke-width="0.3">A</text>
<rect x="845.500" y="0.500" width="11.500" height="12" fill="none" stroke="#606060" stroke-width="1" stroke-dasharray="1 1"/><text x="846.800" y="10.800" font-size="11" fill="#585858" stroke="#585858" stroke-width="0.3">T</text>
<g fill="#404040"><polygon points="875,0 878,3 875,6 872,3"/><polygon points="883,7 886,10 883,13 880,10"/><path d="M874,7 L877,10 L882,3.5" stroke="#404040" stroke-width="1.3" fill="none"/></g>
<text x="926" y="9.800" font-size="9.300" text-anchor="middle" fill="#555">M1</text>
<text x="954" y="9.800" font-size="9.300" text-anchor="middle" fill="#555">M5</text>
<text x="982.300" y="9.800" font-size="9.300" text-anchor="middle" fill="#555">M15</text>
<text x="1010.500" y="9.800" font-size="9.300" text-anchor="middle" fill="#555">M30</text>
<text x="1038.500" y="9.800" font-size="9.300" text-anchor="middle" fill="#555">H1</text>
<text x="1066" y="9.800" font-size="9.300" text-anchor="middle" fill="#555">H4</text>
<text x="1094.700" y="9.800" font-size="9.300" text-anchor="middle" fill="#555">D1</text>
<text x="1123" y="9.800" font-size="9.300" text-anchor="middle" fill="#555">W1</text>
<text x="1150.300" y="9.800" font-size="9.300" text-anchor="middle" fill="#555">MN</text>
<line x1="1633" y1="6.600" x2="1627.600" y2="11" stroke="#2a5ad0" stroke-width="2.6"/><circle cx="1635.700" cy="3.200" r="4.100" fill="#fbfdff" stroke="#2a5ad0" stroke-width="1.1"/>
<defs><linearGradient id="bub" x1="0" y1="0" x2="0" y2="1"><stop offset="0" stop-color="#ffffff"/><stop offset="1" stop-color="#d8d8dc"/></linearGradient></defs>
<g fill="url(#bub)" stroke="#b0b0b4" stroke-width="0.8"><path d="M1670.5,8 l1.500,2 l-0.300,-2.300 z"/><ellipse cx="1668.600" cy="3.400" rx="6.400" ry="5"/><path d="M1657,10 l-0.800,2.600 l2.600,-2 z"/><ellipse cx="1659.300" cy="6.900" rx="5" ry="3.800"/></g>
</svg>
</body></html>
